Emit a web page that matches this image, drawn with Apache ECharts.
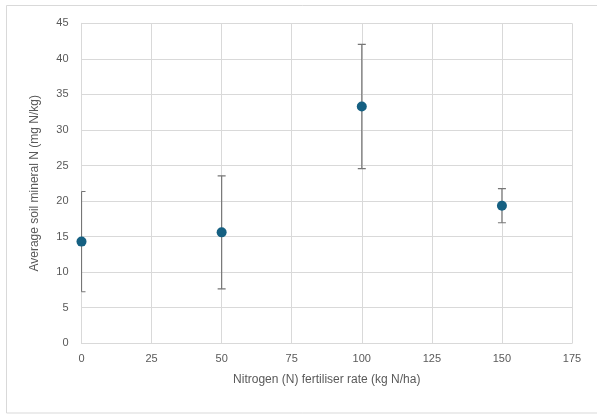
<!DOCTYPE html>
<html><head><meta charset="utf-8">
<script src="https://cdn.jsdelivr.net/npm/echarts@6/dist/echarts.min.js"></script>
<style>html,body{margin:0;padding:0;background:#fff}#c{width:597px;height:417px}</style>
</head><body><div id="c"></div>
<script>
const rates = [0, 50, 100, 150];
const meanN = [14.3, 15.6, 33.3, 19.35];
const errN = [7.05, 7.95, 8.75, 2.4];
const xTicks = [0, 25, 50, 75, 100, 125, 150, 175];
const yTicks = [0, 5, 10, 15, 20, 25, 30, 35, 40, 45];

const font = '"Liberation Sans", "Noto Sans", sans-serif';
const txt = '#595959';
const chart = echarts.init(document.getElementById('c'), null, {renderer: 'canvas'});
chart.setOption({
  animation: false,
  backgroundColor: '#fff',
  graphic: [{type: 'rect', shape: {x: 6.5, y: 5.5, width: 600, height: 407.5},
    style: {fill: 'none', stroke: '#d9d9d9', lineWidth: 1}, z: -1}],
  grid: {left: 81.5, right: 25, top: 23.3, bottom: 73.7, containLabel: false},
  xAxis: {
    type: 'value', min: xTicks[0], max: xTicks[xTicks.length - 1], interval: 25,
    name: 'Nitrogen (N) fertiliser rate (kg N/ha)', nameLocation: 'middle', nameGap: 30,
    nameTextStyle: {color: txt, fontSize: 12, fontFamily: font},
    axisLine: {show: true, lineStyle: {color: '#d9d9d9', width: 1}},
    axisTick: {show: false},
    axisLabel: {color: txt, fontSize: 11, fontFamily: font, margin: 10},
    splitLine: {show: true, lineStyle: {color: '#d9d9d9', width: 1}}
  },
  yAxis: {
    type: 'value', min: yTicks[0], max: yTicks[yTicks.length - 1], interval: 5,
    name: 'Average soil mineral N (mg N/kg)', nameLocation: 'middle', nameGap: 41,
    nameTextStyle: {color: txt, fontSize: 12, fontFamily: font},
    axisLine: {show: true, lineStyle: {color: '#d9d9d9', width: 1}},
    axisTick: {show: false},
    axisLabel: {color: txt, fontSize: 11, fontFamily: font, margin: 13},
    splitLine: {show: true, lineStyle: {color: '#d9d9d9', width: 1}}
  },
  series: [
    {
      type: 'custom',
      clip: true,
      data: rates.map((r, i) => [r, meanN[i] - errN[i], meanN[i] + errN[i]]),
      renderItem: function (params, api) {
        const x = api.value(0);
        const lo = api.coord([x, api.value(1)]);
        const hi = api.coord([x, api.value(2)]);
        const hw = 4;
        const style = {stroke: '#767676', lineWidth: 1.2, fill: 'none'};
        const clipL = params.coordSys.x;
        return {
          type: 'group',
          children: [
            {type: 'line', shape: {x1: lo[0], y1: lo[1], x2: hi[0], y2: hi[1]}, style: style},
            {type: 'line', shape: {x1: Math.max(hi[0] - hw, clipL), y1: hi[1], x2: hi[0] + hw, y2: hi[1]}, style: style},
            {type: 'line', shape: {x1: Math.max(lo[0] - hw, clipL), y1: lo[1], x2: lo[0] + hw, y2: lo[1]}, style: style}
          ]
        };
      },
      z: 2
    },
    {
      type: 'scatter',
      data: rates.map((r, i) => [r, meanN[i]]),
      symbol: 'circle', symbolSize: 10,
      itemStyle: {color: '#156082', opacity: 1},
      z: 3
    }
  ]
});
</script></body></html>
